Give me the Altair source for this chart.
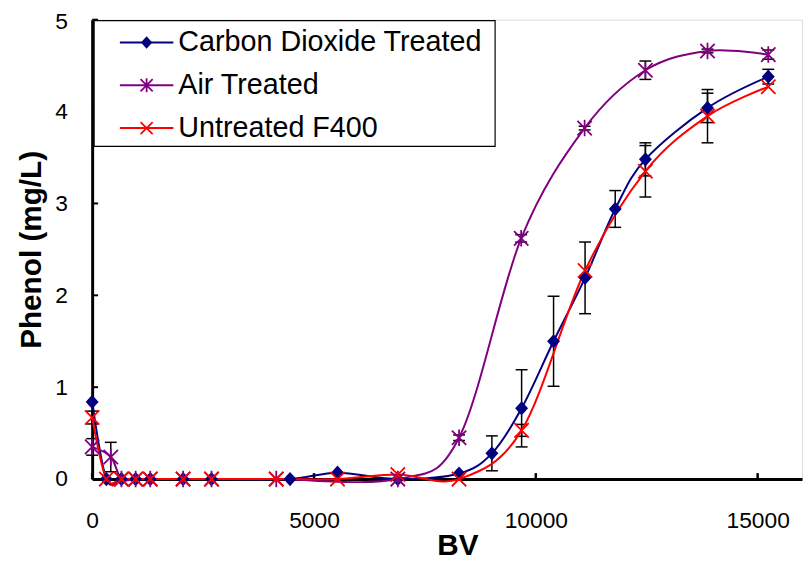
import altair as alt
import pandas as pd

# ---------------- data ----------------
series_names = ["Carbon Dioxide Treated", "Air Treated", "Untreated F400"]
series_colors = ["#000080", "#800080", "#FF0000"]

carbon_bv = [0, 320, 660, 980, 1310, 2050, 2690, 4460, 5530, 6890, 8270, 9010, 9680, 10400, 11110, 11790, 12470, 13870, 15240]
carbon_val = [0.84, 0, 0, 0, 0, 0, 0, 0, 0.07, 0, 0.06, 0.28, 0.77, 1.50, 2.19, 2.94, 3.48, 4.04, 4.38]
carbon_err = [0, 0, 0, 0, 0, 0, 0, 0, 0, 0, 0, 0.19, 0.42, 0.49, 0.39, 0.20, 0.18, 0.16, 0.08]

air_bv = [0, 420, 660, 980, 1310, 2050, 2690, 4150, 6890, 8270, 9670, 11100, 12470, 13870, 15240]
air_val = [0.35, 0.24, 0, 0, 0, 0, 0, 0, 0, 0.45, 2.62, 3.82, 4.45, 4.66, 4.62]
air_err = [0.09, 0.16, 0, 0, 0, 0, 0, 0, 0, 0.03, 0.04, 0.02, 0.10, 0.02, 0.05]

red_bv = [0, 320, 660, 980, 1310, 2050, 2690, 4150, 5530, 6890, 8270, 9680, 11110, 12470, 13870, 15240]
red_val = [0.67, 0, 0, 0, 0, 0, 0, 0, 0, 0.05, 0, 0.53, 2.27, 3.35, 3.95, 4.27]
red_err = [0.07, 0, 0, 0, 0, 0, 0, 0, 0, 0, 0, 0.065, 0, 0.28, 0.29, 0]

x_ticks = [0, 5000, 10000, 15000]
y_ticks = [0, 1, 2, 3, 4, 5]

# ---------------- tables ----------------
rows = []
for name, bvs, vals, errs in [
    (series_names[0], carbon_bv, carbon_val, carbon_err),
    (series_names[1], air_bv, air_val, air_err),
    (series_names[2], red_bv, red_val, red_err),
]:
    for b, v, e in zip(bvs, vals, errs):
        rows.append({"series": name, "bv": b, "val": v, "err": e,
                     "lo": v - e, "hi": v + e})
df = pd.DataFrame(rows)
df_err = df[df["err"] > 0].copy()
df_xt = pd.DataFrame({"bv": x_ticks})
df_yt = pd.DataFrame({"val": y_ticks})
df_leg = pd.DataFrame({"series": series_names})

W, H = 717, 464
FONT = "Liberation Sans"

xs = alt.Scale(domain=[0, 16000], nice=False, zero=False)
ys = alt.Scale(domain=[0, 5], nice=False, zero=False)

x_axis = alt.Axis(title="BV", values=x_ticks, format="d", grid=False,
                  ticks=False, tickSize=0, labelPadding=31, labelFontSize=23,
                  labelFont=FONT, labelColor="black", labelFlush=False,
                  labelOverlap=False, domainColor="black", domainWidth=3,
                  titleFont=FONT, titleFontSize=30, titleFontWeight="bold",
                  titleColor="black", titleX=369, titleY=76,
                  titleBaseline="alphabetic", titleAlign="center")
y_axis = alt.Axis(title="Phenol (mg/L)", values=y_ticks, format="d", grid=False,
                  ticks=False, tickSize=0, labelPadding=25, labelFontSize=23,
                  labelFont=FONT, labelColor="black", labelFlush=False,
                  labelOverlap=False, domainColor="black", domainWidth=3,
                  labelOffset={"condition": {"test": "datum.value === 5", "value": 2}, "value": 0},
                  titleFont=FONT, titleFontSize=30, titleFontWeight="bold",
                  titleColor="black", titlePadding=8)

color_scale = alt.Scale(domain=series_names, range=series_colors)
DIAM = "M0,-1.1L1,0L0,1.1L-1,0Z"
ASTER = "M-1,-1L1,1M-1,1L1,-1M0,-1.15L0,1.15"
XMARK = "M-1,-1L1,1M-1,1L1,-1"
shape_scale = alt.Scale(domain=series_names, range=[DIAM, ASTER, XMARK])

X = alt.X("bv:Q", scale=xs, axis=x_axis)
Y = alt.Y("val:Q", scale=ys, axis=y_axis)
C = alt.Color("series:N", scale=color_scale, legend=None)
S = alt.Shape("series:N", scale=shape_scale, legend=None)

y_tick_layer = alt.Chart(df_yt).mark_rule(color="black", strokeWidth=2).encode(
    y=Y, x=alt.value(0), x2=alt.value(6))
x_tick_layer = alt.Chart(df_xt).mark_rule(color="black", strokeWidth=2.5).encode(
    x=X, y=alt.value(H - 6), y2=alt.value(H))

err_rule = alt.Chart(df_err).mark_rule(color="black", strokeWidth=1.5).encode(
    x=X, y=alt.Y("lo:Q", scale=ys, axis=y_axis), y2="hi:Q")
err_caps = alt.Chart(df_err).transform_fold(["lo", "hi"], as_=["k", "cap"]).mark_point(
    shape="M-1,0L1,0", size=144, color="black", strokeWidth=1.5, filled=False, opacity=1
).encode(x=X, y=alt.Y("cap:Q", scale=ys, axis=y_axis))

lines = alt.Chart(df).mark_line(interpolate="cardinal", tension=0, strokeWidth=2).encode(
    x=X, y=Y, color=C, detail="series:N")

pts_filled = alt.Chart(df).transform_filter(
    alt.datum.series == series_names[0]
).mark_point(filled=True, size=170, opacity=1).encode(x=X, y=Y, color=C, shape=S)

pts_open = alt.Chart(df).transform_filter(
    alt.datum.series != series_names[0]
).mark_point(filled=False, size=210, strokeWidth=1.8, opacity=1).encode(
    x=X, y=Y, color=C, shape=S)

main = alt.layer(y_tick_layer, x_tick_layer, err_rule, err_caps, lines, pts_filled, pts_open)

# ---------------- legend (drawn as marks, rows on a point scale) ----------------
LY = alt.Y("series:N", axis=None,
           scale=alt.Scale(type="point", domain=series_names, range=[23, 109.5], padding=0))

leg_box = alt.Chart(alt.Data(values=[{"k": 1}])).mark_rect(
    fill="white", stroke="black", strokeWidth=1.2
).encode(x=alt.value(2), x2=alt.value(407), y=alt.value(1), y2=alt.value(128))
leg_line = alt.Chart(df_leg).mark_rule(strokeWidth=2).encode(
    x=alt.value(28), x2=alt.value(82), y=LY, color=C)
leg_pf = alt.Chart(df_leg).transform_filter(
    alt.datum.series == series_names[0]
).mark_point(filled=True, size=130, opacity=1).encode(x=alt.value(55), y=LY, color=C, shape=S)
leg_po = alt.Chart(df_leg).transform_filter(
    alt.datum.series != series_names[0]
).mark_point(filled=False, size=150, strokeWidth=1.8, opacity=1).encode(
    x=alt.value(55), y=LY, color=C, shape=S)
leg_text = alt.Chart(df_leg).mark_text(
    align="left", baseline="middle", font=FONT, fontSize=29, color="black"
).encode(x=alt.value(87), y=LY, text="series:N")

legend = alt.layer(leg_box, leg_line, leg_pf, leg_po, leg_text)

chart = alt.layer(main, legend).resolve_scale(y="independent").properties(
    width=W, height=H,
    autosize=alt.AutoSizeParams(type="none"),
    padding={"left": 85, "top": 9, "right": 1, "bottom": 86},
    background="white",
).configure_view(
    stroke="#A6A6A6", strokeWidth=1.5
).configure(font=FONT)

chart.save("out.html", embed_options={"renderer": "svg", "actions": False})
